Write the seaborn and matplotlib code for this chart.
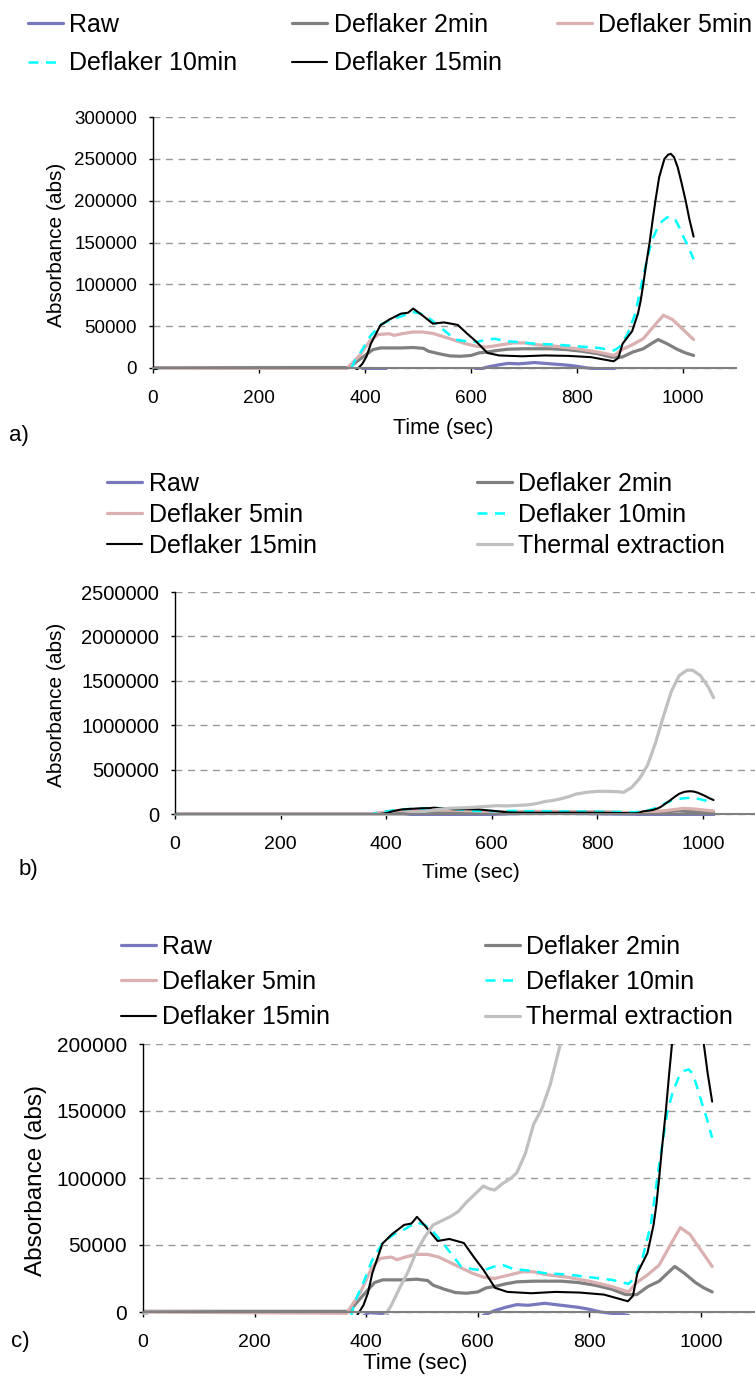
import numpy as np
import pandas as pd
import matplotlib.pyplot as plt
import seaborn as sns
from matplotlib.ticker import MultipleLocator, StrMethodFormatter

# --- DATA ---
raw_t = [0, 30, 380, 395, 405, 425, 440, 455, 595, 608, 630, 650, 670, 690, 720, 750, 780, 800, 820, 850, 870,
         890, 1020]
raw_v = [0, -15000, -15000, -3000, -500, -1000, -3000, -15000, -15000, -3000, 1000, 3500, 5500, 5000, 6500, 5000,
         3500, 2000, 0, -1500, -2500, -15000, -15000]

def2_t = [0, 370, 385, 400, 415, 430, 470, 490, 510, 520, 540, 560, 580, 600, 615, 630, 650, 670, 700, 750, 780,
          810, 840, 865, 885, 905, 925, 940, 953, 970, 990, 1005, 1020]
def2_v = [500, 500, 8000, 15000, 22000, 24000, 24000, 24500, 23500, 20000, 17000, 14500, 14000, 15000, 18000, 19000,
          21000, 22500, 23000, 23000, 22000, 20000, 17000, 13000, 13000, 19000, 23000, 29000, 34000, 29000, 22000,
          18000, 15000]

def5_t = [0, 365, 390, 410, 425, 445, 455, 470, 490, 510, 530, 550, 570, 590, 610, 630, 650, 680, 700, 720, 760,
          800, 840, 870, 885, 905, 925, 945, 963, 980, 1000, 1020]
def5_v = [0, -1000, 15000, 33000, 40000, 41000, 39000, 41000, 43000, 43000, 41000, 37000, 33000, 29000, 26000, 25000,
          27000, 30000, 30000, 28000, 26000, 23000, 19000, 15000, 22000, 28000, 35000, 50000, 63000, 58000, 46000,
          34000]

def10_t = [0, 40, 365, 380, 395, 410, 430, 450, 470, 490, 505, 520, 540, 555, 570, 590, 610, 630, 645, 665, 690,
           720, 760, 800, 840, 870, 880, 895, 910, 925, 940, 950, 960, 970, 978, 985, 993, 1000, 1010, 1020]
def10_v = [0, -15000, -15000, 8000, 22000, 38000, 52000, 58000, 62000, 67000, 65000, 60000, 50000, 42000, 34000,
           32000, 31000, 34000, 35000, 32000, 31000, 29000, 28000, 26000, 24000, 21000, 25000, 40000, 65000, 110000,
           150000, 165000, 175000, 180000, 181000, 178000, 168000, 158000, 145000, 130000]

def15_t = [0, 40, 370, 383, 395, 403, 411, 429, 446, 468, 481, 491, 506, 528, 549, 575, 592, 610, 631, 653, 696,
           739, 783, 826, 852, 869, 878, 886, 904, 915, 920, 925, 930, 937, 943, 948, 955, 965, 972, 977, 983, 990,
           997, 1005, 1012, 1020]
def15_v = [0, -15000, -15000, -3000, 5000, 14000, 29000, 51000, 58000, 65000, 66000, 71000, 64000, 53000, 54500,
           51500, 41500, 31500, 18000, 15000, 14000, 15000, 14500, 13000, 10000, 8000, 12000, 29000, 44000, 65000,
           80000, 100000, 122000, 150000, 178000, 200000, 228000, 250000, 255000, 256000, 252000, 240000, 222000,
           200000, 178000, 157000]

thermal_t = [0, 40, 400, 420, 435, 445, 460, 475, 490, 505, 520, 535, 550, 565, 580, 595, 610, 620, 630, 645, 660,
             670, 685, 700, 715, 730, 748, 760, 780, 800, 820, 840, 850, 865, 880, 895, 910, 925, 940, 955, 970,
             980, 995, 1010, 1020]
thermal_v = [0, -15000, -15000, -10000, -2000, 5000, 18000, 30000, 45000, 56000, 65000, 68000, 71000, 75000, 82000,
             88000, 94000, 92000, 91000, 96000, 100000, 104000, 118000, 140000, 152000, 170000, 200000, 225000,
             245000, 255000, 255000, 250000, 245000, 300000, 400000, 550000, 800000, 1100000, 1380000, 1560000,
             1620000, 1620000, 1560000, 1430000, 1310000]

series = {
    'Raw': (raw_t, raw_v),
    'Deflaker 2min': (def2_t, def2_v),
    'Deflaker 5min': (def5_t, def5_v),
    'Deflaker 10min': (def10_t, def10_v),
    'Deflaker 15min': (def15_t, def15_v),
    'Thermal extraction': (thermal_t, thermal_v),
}

styles = {
    'Raw': dict(color='#7878be', lw=2.3),
    'Deflaker 2min': dict(color='#808080', lw=2.3),
    'Deflaker 5min': dict(color='#dab0b0', lw=2.3),
    'Deflaker 10min': dict(color='#00ffff', lw=1.8, linestyle=(0, (4, 3))),
    'Deflaker 15min': dict(color='black', lw=1.5),
    'Thermal extraction': dict(color='#c0c0c0', lw=2.3),
}

# --- FIGURE SETUP ---
W, H = 755, 1376
sns.set_style("ticks")
plt.rcParams['font.family'] = ['Liberation Sans', 'DejaVu Sans']
plt.rcParams['text.color'] = 'black'
plt.rcParams['axes.labelcolor'] = 'black'

fig = plt.figure(figsize=(W / 100, H / 100), dpi=100)


def add_panel(x0, x1000, y0, ytop, ymax, ymin):
    # axes placed from pixel positions of x=0, x=1000, y=0 and y=ymax
    sx = (x1000 - x0) / 1000
    sy = (y0 - ytop) / ymax
    right = x0 + 1100 * sx
    bottom = y0 - ymin * sy
    return fig.add_axes([x0 / W, 1 - bottom / H, (right - x0) / W, (bottom - ytop) / H])


def draw_panel(ax, names, ymax, ystep, ymin, tick_fs, xtick_fs):
    for name in names:
        t, v = series[name]
        df = pd.DataFrame({'Time': t, 'Abs': v})
        sns.lineplot(data=df, x='Time', y='Abs', ax=ax, label=name, estimator=None, **styles[name])
    ax.set_xlim(0, 1100)
    ax.set_ylim(ymin, ymax)
    ax.xaxis.set_major_locator(MultipleLocator(200))
    ax.yaxis.set_major_locator(MultipleLocator(ystep))
    ax.yaxis.set_major_formatter(StrMethodFormatter('{x:.0f}'))
    ax.grid(axis='y', color='#999999', linestyle=(0, (5, 4)), lw=1)
    ax.spines['top'].set_visible(False)
    ax.spines['right'].set_visible(False)
    ax.spines['bottom'].set_position(('data', 0))
    ax.spines['bottom'].set_color('#808080')
    ax.spines['bottom'].set_linewidth(1.5)
    ax.spines['left'].set_bounds(0, ymax)
    ax.spines['left'].set_color('black')
    ax.spines['left'].set_linewidth(1)
    ax.tick_params(axis='y', direction='out', length=3, width=1, pad=8.5, labelsize=tick_fs, colors='black')
    ax.tick_params(axis='x', direction='out', length=3.6, width=1, pad=12, labelsize=xtick_fs, colors='black')
    ax.set_xlabel('')


def put_legend(ax, order, ncol, cx, cy, colspace, labelspace):
    handles, labels = ax.get_legend_handles_labels()
    lookup = dict(zip(labels, handles))
    ax.legend([lookup[n] for n in order], order, loc='center', bbox_to_anchor=(cx / W, 1 - cy / H),
              bbox_transform=fig.transFigure, ncol=ncol, frameon=False, fontsize=18, handlelength=1.4,
              handletextpad=0.25, columnspacing=colspace, labelspacing=labelspace, borderpad=0, borderaxespad=0,
              labelcolor='black')


def put_ylabel(ax, x, y, size):
    ax.set_ylabel('Absorbance (abs)', fontsize=size, va='center', ha='center')
    ax.yaxis.set_label_coords(x / W, 1 - y / H, transform=fig.transFigure)


five = ['Raw', 'Deflaker 2min', 'Deflaker 5min', 'Deflaker 10min', 'Deflaker 15min']
six = five + ['Thermal extraction']
col_order = ['Raw', 'Deflaker 5min', 'Deflaker 15min', 'Deflaker 2min', 'Deflaker 10min', 'Thermal extraction']

# --- Panel a ---
ax_a = add_panel(153, 683, 368, 117, 300000, -2500)
draw_panel(ax_a, five, 300000, 50000, -2500, 13.5, 13.7)
put_legend(ax_a, ['Raw', 'Deflaker 10min', 'Deflaker 2min', 'Deflaker 15min', 'Deflaker 5min'],
           3, 390, 44, 2.2, 0.6)
put_ylabel(ax_a, 56, 245, 15)
fig.text(443 / W, 1 - 429 / H, 'Time (sec)', fontsize=15.5, ha='center', va='center')
fig.text(9 / W, 1 - 436 / H, 'a)', fontsize=16, va='center')

# --- Panel b ---
ax_b = add_panel(175, 703, 814, 592, 2500000, -25000)
draw_panel(ax_b, six, 2500000, 500000, -25000, 14.5, 14)
put_legend(ax_b, col_order, 2, 416, 515, 6.4, 0.28)
put_ylabel(ax_b, 56, 705, 15)
fig.text(471 / W, 1 - 873 / H, 'Time (sec)', fontsize=15, ha='center', va='center')
fig.text(19 / W, 1 - 870 / H, 'b)', fontsize=16, va='center')

# --- Panel c ---
ax_c = add_panel(143, 701, 1312, 1044, 200000, -2000)
draw_panel(ax_c, six, 200000, 50000, -2000, 15, 14)
put_legend(ax_c, col_order, 2, 427, 982, 6.2, 0.45)
put_ylabel(ax_c, 36, 1181, 17.5)
fig.text(415 / W, 1 - 1363 / H, 'Time (sec)', fontsize=16, ha='center', va='center')
fig.text(11 / W, 1 - 1342 / H, 'c)', fontsize=16, va='center')

fig.savefig('out.png', dpi=100)
